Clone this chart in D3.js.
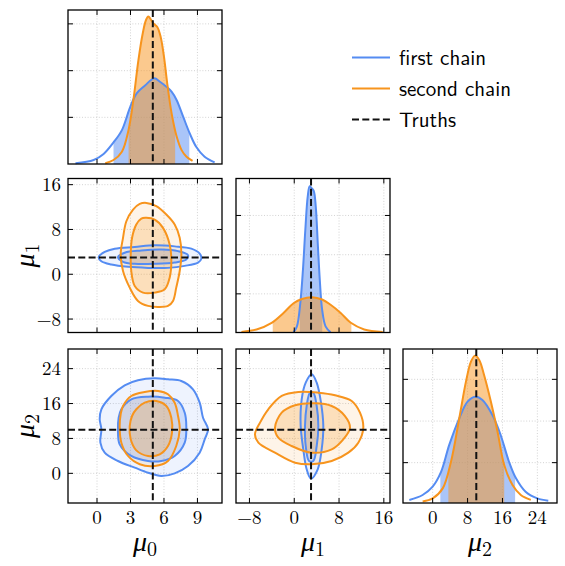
<!DOCTYPE html>
<html>
<head>
<meta charset="utf-8">
<script src="https://cdn.jsdelivr.net/npm/d3@7"></script>
<style>
body { margin: 0; background: #fff; }
</style>
</head>
<body>
<div id="viz"></div>
<script>
// ---- data ----
const paramSubs = ["0", "1", "2"]
const truths = [5, 3, 10]
const extents = [[-2.6, 11.2], [-10.4, 17.1], [-6.8, 28.5]]
const axisTicks = [[0, 3, 6, 9], [-8, 0, 8, 16], [0, 8, 16, 24]]
const margTicks = [[0.303, 0.606, 0.91], [0.251, 0.505, 0.76], [0.262, 0.532, 0.803]]
const chainNames = ["first chain", "second chain"]

// marginals: [value, height as share of panel]
const blueMarg0 = [[-1.93, 0.005], [-0.3, 0.026], [0.59, 0.065], [1.48, 0.14], [2.23, 0.22], [2.97, 0.37], [3.57, 0.46], [4.3, 0.51], [5.13, 0.556], [5.64, 0.534], [6.24, 0.5], [6.68, 0.47], [7.13, 0.416], [7.72, 0.307], [8.3, 0.2], [8.9, 0.11], [9.64, 0.047], [10.54, 0.01]]
const orangeMarg0 = [[0.74, 0.005], [1.48, 0.026], [2.23, 0.08], [2.82, 0.22], [3.26, 0.416], [3.71, 0.675], [4.1, 0.849], [4.39, 0.935], [4.6, 0.957], [4.81, 0.94], [5.05, 0.913], [5.4, 0.89], [5.7, 0.827], [6.0, 0.697], [6.29, 0.524], [6.68, 0.33], [7.13, 0.18], [7.58, 0.09], [8.02, 0.047], [8.56, 0.02]]
const blueMarg1 = [[-0.12, 0.002], [0.48, 0.04], [1.08, 0.19], [1.56, 0.41], [1.98, 0.667], [2.4, 0.88], [2.76, 0.95], [3.12, 0.937], [3.48, 0.92], [3.84, 0.82], [4.2, 0.58], [4.56, 0.343], [4.98, 0.149], [5.59, 0.04], [6.49, 0.002]]
const orangeMarg1 = [[-9.43, 0.004], [-6.73, 0.02], [-4.03, 0.063], [-1.92, 0.127], [-0.12, 0.19], [1.38, 0.218], [3.18, 0.229], [4.98, 0.214], [6.49, 0.18], [8.29, 0.127], [10.1, 0.063], [12.49, 0.02], [15.8, 0.004]]
const blueMarg2 = [[-5.35, 0.02], [-2.3, 0.052], [0, 0.106], [1.9, 0.2], [3.8, 0.377], [6.1, 0.55], [8.0, 0.658], [9.77, 0.69], [11.4, 0.669], [13.7, 0.571], [15.6, 0.44], [17.5, 0.268], [19.1, 0.16], [21.3, 0.073], [24.0, 0.03], [26.5, 0.015]]
const orangeMarg2 = [[-2.3, 0.01], [0, 0.03], [2.3, 0.095], [4.2, 0.268], [6.1, 0.55], [7.63, 0.788], [8.78, 0.918], [9.7, 0.957], [10.67, 0.929], [11.8, 0.83], [13.35, 0.658], [14.87, 0.463], [16.4, 0.247], [18.3, 0.117], [20.2, 0.052], [22.5, 0.02]]
const blueIntervals = [[1.48, 8.27], [1.0, 5.0], [1.76, 18.9]]
const orangeIntervals = [[2.83, 7.0], [-3.84, 10.2], [3.6, 16.4]]

// 2d contours: [x, y]
const blue01Outer = [[0.15, 3.07], [0.69, 3.98], [1.59, 4.57], [3.38, 4.87], [5.17, 5.16], [6.96, 4.98], [8.45, 4.57], [9.2, 3.69], [9.35, 2.8], [9.05, 2.09], [7.86, 1.5], [6.36, 1.14], [4.57, 1.14], [2.78, 1.32], [1.28, 1.73], [0.39, 2.32]]
const blue01Inner = [[1.88, 3.07], [2.48, 3.85], [3.97, 4.24], [5.76, 4.4], [7.26, 4.13], [8.15, 3.42], [8.0, 2.63], [6.96, 2.1], [5.17, 1.87], [3.38, 1.87], [2.33, 2.23]]
const orange01Outer = [[4.42, 12.74], [5.31, 12.15], [6.21, 10.66], [6.96, 8.88], [7.41, 6.51], [7.56, 3.54], [7.41, 0.58], [7.1, -2.39], [6.81, -4.76], [6.36, -5.65], [5.47, -5.83], [4.57, -5.65], [3.67, -4.76], [2.93, -2.39], [2.33, 0.58], [2.12, 3.54], [2.33, 6.51], [2.63, 9.47], [3.23, 11.55], [3.83, 12.56]]
const orange01Inner = [[4.42, 10.07], [5.17, 9.77], [5.91, 8.29], [6.51, 5.32], [6.66, 2.36], [6.51, -0.61], [6.07, -2.69], [5.17, -3.28], [4.12, -3.28], [3.38, -2.1], [3.07, 0.58], [3.02, 3.54], [3.14, 6.51], [3.52, 8.88], [3.97, 9.95]]

const blue02Outer = [[0.39, 14.68], [1.28, 17.73], [2.48, 20.18], [3.67, 21.32], [5.17, 21.78], [6.36, 21.55], [7.55, 21.17], [8.6, 19.26], [9.2, 16.19], [9.5, 12.75], [9.95, 10.1], [9.65, 7.8], [9.2, 4.74], [8.15, 1.68], [6.96, 0.0], [5.76, -0.61], [4.57, 0.15], [3.38, 1.3], [1.88, 2.83], [0.69, 4.74], [0.3, 7.03], [0.39, 10.1], [0.24, 12.39]]
const blue02Inner = [[2.18, 14.68], [3.07, 16.97], [4.57, 17.57], [6.07, 17.34], [7.26, 16.58], [7.86, 13.9], [8.0, 10.85], [7.86, 7.03], [6.96, 3.98], [5.76, 2.83], [4.57, 2.83], [3.07, 3.98], [2.03, 6.65], [1.88, 10.1], [1.94, 12.75]]
const orange02Outer = [[2.33, 15.44], [3.07, 17.73], [4.27, 18.65], [5.47, 18.87], [6.36, 18.12], [6.96, 16.19], [7.26, 13.14], [7.41, 10.1], [7.1, 6.27], [6.36, 2.83], [5.17, 1.68], [3.83, 2.07], [2.78, 3.98], [2.18, 7.03], [2.03, 10.85], [2.12, 13.53]]
const orange02Inner = [[3.52, 14.68], [4.27, 16.19], [5.31, 16.58], [6.21, 15.44], [6.66, 12.75], [6.72, 9.33], [6.36, 6.27], [5.62, 4.36], [4.57, 3.98], [3.52, 5.27], [3.02, 7.8], [2.93, 10.85], [3.14, 13.14]]

const blue12Outer = [[3.12, 22.7], [4.01, 20.78], [4.78, 16.19], [5.19, 10.85], [4.9, 5.51], [4.19, 0.93], [2.99, -1.21], [2.22, 0.93], [1.62, 5.51], [1.15, 10.85], [1.33, 16.97], [2.05, 20.78]]
const blue12Inner = [[3.4, 18.48], [4.01, 15.44], [4.3, 10.85], [4.01, 6.27], [3.4, 2.83], [2.64, 2.83], [2.05, 6.27], [1.92, 10.85], [2.22, 15.44], [2.81, 18.48]]
const orange12Outer = [[-7.01, 8.95], [-6.11, 11.62], [-4.63, 14.68], [-2.24, 17.73], [0.73, 18.65], [4.3, 18.48], [7.28, 17.89], [10.26, 16.58], [11.74, 13.9], [12.33, 10.46], [11.44, 7.03], [9.66, 4.74], [6.69, 2.83], [3.12, 2.07], [0.14, 2.44], [-3.44, 4.74], [-6.41, 7.03]]
const orange12Inner = [[-3.44, 10.46], [-2.24, 13.9], [0.14, 15.6], [3.71, 16.06], [6.69, 15.44], [9.06, 13.14], [9.96, 10.46], [8.76, 7.8], [6.69, 5.51], [3.12, 4.74], [-0.46, 6.27], [-2.85, 8.18]]

// ---- layout ----
const W = 565, H = 566
const colX = [68, 236, 403]
const rowY = [10, 178.5, 349]
const S = 154
const BLUE = "#558cf2"
const ORANGE = "#f7941d"
const SERIF = '"Latin Modern Roman", "Liberation Serif", serif'
const SANS = '"Latin Modern Sans", "Liberation Sans", sans-serif'

const svg = d3.select("#viz").append("svg").attr("width", W).attr("height", H)

const xScales = extents.map(e => d3.scaleLinear().domain(e).range([0, S]))
const yScales = extents.map(e => d3.scaleLinear().domain(e).range([S, 0]))
const hScale = d3.scaleLinear().domain([0, 1]).range([S, 0])

const margData = [[blueMarg0, orangeMarg0], [blueMarg1, orangeMarg1], [blueMarg2, orangeMarg2]]
const contourData = {
    "0-1": [[blue01Outer, blue01Inner], [orange01Outer, orange01Inner]],
    "0-2": [[blue02Outer, blue02Inner], [orange02Outer, orange02Inner]],
    "1-2": [[blue12Outer, blue12Inner], [orange12Outer, orange12Inner]],
}
const colors = [BLUE, ORANGE]

let clipId = 0
function makeClip(g, x0, x1) {
    const id = "clip" + (clipId++)
    g.append("clipPath").attr("id", id).append("rect")
        .attr("x", x0).attr("y", 0).attr("width", Math.max(0, x1 - x0)).attr("height", S)
    return `url(#${id})`
}

function drawGrid(g, xs, ys, xt, yt) {
    const gg = g.append("g")
    gg.selectAll("line.gx").data(xt).join("line").attr("class", "gx")
        .attr("x1", d => xs(d)).attr("x2", d => xs(d)).attr("y1", 0).attr("y2", S)
    gg.selectAll("line.gy").data(yt).join("line").attr("class", "gy")
        .attr("y1", d => ys(d)).attr("y2", d => ys(d)).attr("x1", 0).attr("x2", S)
    gg.selectAll("line").attr("stroke", "#c8c8c8").attr("stroke-width", 0.8).attr("stroke-dasharray", "1,1.8")
}

function drawFrame(g, xs, ys, xt, yt) {
    const tk = g.append("g").attr("stroke", "#000").attr("stroke-width", 1)
    xt.forEach(v => {
        tk.append("line").attr("x1", xs(v)).attr("x2", xs(v)).attr("y1", S).attr("y2", S - 5)
        tk.append("line").attr("x1", xs(v)).attr("x2", xs(v)).attr("y1", 0).attr("y2", 5)
    })
    yt.forEach(v => {
        tk.append("line").attr("y1", ys(v)).attr("y2", ys(v)).attr("x1", 0).attr("x2", 5)
        tk.append("line").attr("y1", ys(v)).attr("y2", ys(v)).attr("x1", S).attr("x2", S - 5)
    })
    g.append("rect").attr("width", S).attr("height", S)
        .attr("fill", "none").attr("stroke", "#000").attr("stroke-width", 1.3)
}

function truthLine(g, attrs) {
    const l = g.append("line").attr("stroke", "#111").attr("stroke-width", 2).attr("stroke-dasharray", "7,3.3")
    Object.entries(attrs).forEach(([k, v]) => l.attr(k, v))
}

function label(sel, sub, x, y, rotate) {
    const t = sel.append("text")
        .style("font-family", SERIF)
        .attr("font-size", 28)
        .attr("text-anchor", "middle")
        .attr("transform", rotate ? `translate(${x},${y}) rotate(-90)` : `translate(${x},${y})`)
    t.append("tspan").text("μ").attr("font-style", "italic")
    t.append("tspan").text(sub).attr("font-size", 20).attr("dy", 5)
}

const fmt = d => d < 0 ? "\u2212" + Math.abs(d) : String(d)

// diagonal panels
for (let i = 0; i < 3; i++) {
    const g = svg.append("g").attr("transform", `translate(${colX[i]},${rowY[i]})`)
    const xs = xScales[i]
    drawGrid(g, xs, hScale, axisTicks[i], margTicks[i])
    const area = d3.area().x(d => xs(d[0])).y0(S).y1(d => hScale(d[1])).curve(d3.curveCatmullRom)
    const line = d3.line().x(d => xs(d[0])).y(d => hScale(d[1])).curve(d3.curveCatmullRom)
    const intervals = [blueIntervals[i], orangeIntervals[i]]
    margData[i].forEach((m, c) => {
        const iv = intervals[c]
        g.append("path").datum(m).attr("d", area)
            .attr("fill", colors[c]).attr("fill-opacity", 0.5)
            .attr("clip-path", makeClip(g, xs(iv[0]), xs(iv[1])))
    })
    margData[i].forEach((m, c) => {
        g.append("path").datum(m).attr("d", line)
            .attr("fill", "none").attr("stroke", colors[c]).attr("stroke-width", 2)
    })
    truthLine(g, { x1: xs(truths[i]), x2: xs(truths[i]), y1: 0, y2: S })
    drawFrame(g, xs, hScale, axisTicks[i], margTicks[i])
}

// 2d panels
const pairs = [[0, 1], [0, 2], [1, 2]]
pairs.forEach(([px, py]) => {
    const g = svg.append("g").attr("transform", `translate(${colX[px]},${rowY[py]})`)
    const xs = xScales[px], ys = yScales[py]
    drawGrid(g, xs, ys, axisTicks[px], axisTicks[py])
    const line = d3.line().x(d => xs(d[0])).y(d => ys(d[1])).curve(d3.curveCatmullRomClosed)
    const cset = contourData[px + "-" + py]
    const body = g.append("g").attr("clip-path", makeClip(g, 0, S))
    cset.forEach((levels, c) => {
        body.append("path").datum(levels[0]).attr("d", line).attr("fill", colors[c]).attr("fill-opacity", 0.1)
        body.append("path").datum(levels[1]).attr("d", line).attr("fill", colors[c]).attr("fill-opacity", 0.22)
    })
    cset.forEach((levels, c) => {
        levels.forEach(lv => {
            body.append("path").datum(lv).attr("d", line)
                .attr("fill", "none").attr("stroke", colors[c]).attr("stroke-width", 2)
        })
    })
    truthLine(body, { x1: xs(truths[px]), x2: xs(truths[px]), y1: 0, y2: S })
    truthLine(body, { y1: ys(truths[py]), y2: ys(truths[py]), x1: 0, x2: S })
    drawFrame(g, xs, ys, axisTicks[px], axisTicks[py])
})

// tick labels: bottom row x, left column y
for (let i = 0; i < 3; i++) {
    svg.append("g").selectAll("text").data(axisTicks[i]).join("text")
        .style("font-family", SERIF)
        .attr("x", d => colX[i] + xScales[i](d)).attr("y", rowY[2] + S + 20.5)
        .attr("text-anchor", "middle").attr("font-size", 19)
        .text(fmt)
    label(svg, paramSubs[i], colX[i] + S / 2, 551, false)
}
for (let r = 1; r < 3; r++) {
    svg.append("g").selectAll("text").data(axisTicks[r]).join("text")
        .style("font-family", SERIF)
        .attr("x", colX[0] - 7).attr("y", d => rowY[r] + yScales[r](d) + 6.5)
        .attr("text-anchor", "end").attr("font-size", 19)
        .text(fmt)
    label(svg, paramSubs[r], 34, rowY[r] + S / 2, true)
}

// legend
const legendItems = [
    { name: chainNames[0], color: BLUE, dash: null },
    { name: chainNames[1], color: ORANGE, dash: null },
    { name: "Truths", color: "#111", dash: "7,3.3" },
]
const lg = svg.append("g").attr("transform", "translate(352,57.5)")
lg.selectAll("line").data(legendItems).join("line")
    .attr("x1", 0).attr("x2", 38)
    .attr("y1", (d, i) => i * 31).attr("y2", (d, i) => i * 31)
    .attr("stroke", d => d.color).attr("stroke-width", 2)
    .attr("stroke-dasharray", d => d.dash)
lg.selectAll("text").data(legendItems).join("text")
    .style("font-family", SANS)
    .attr("x", 47).attr("y", (d, i) => i * 31 + 7.5)
    .attr("font-size", 21)
    .text(d => d.name)
</script>
</body>
</html>
